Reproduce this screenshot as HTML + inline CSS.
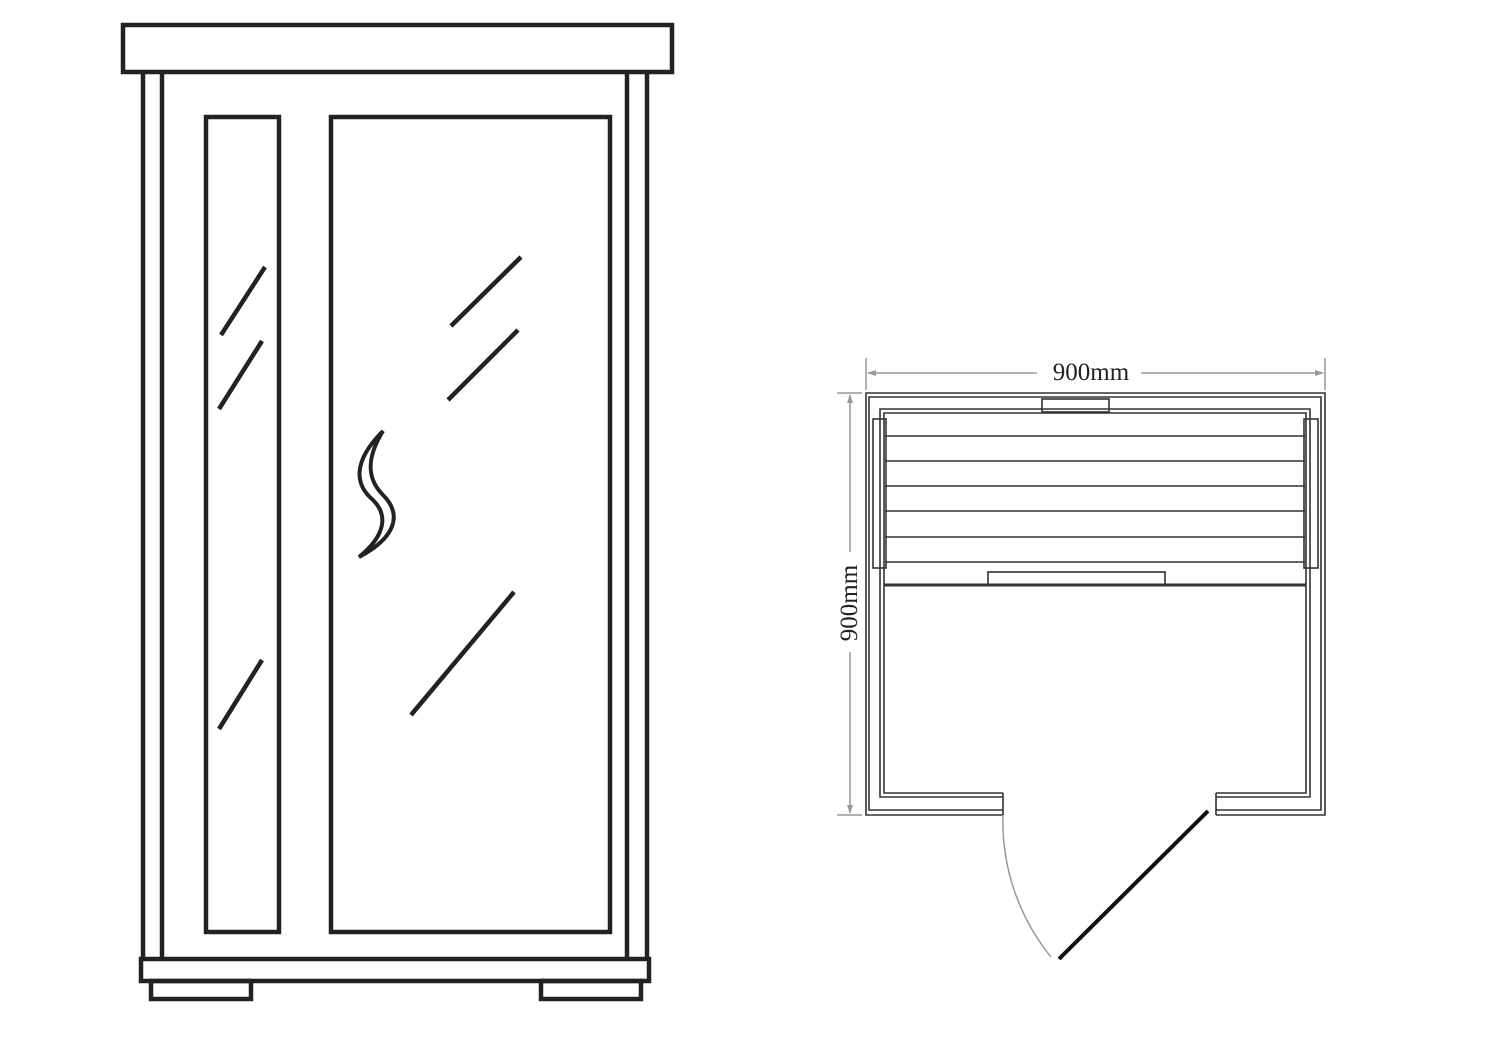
<!DOCTYPE html>
<html><head><meta charset="utf-8"><style>
html,body{margin:0;padding:0;background:#fff;}
svg{display:block;}
</style></head><body>
<svg width="1500" height="1039" viewBox="0 0 1500 1039" xmlns="http://www.w3.org/2000/svg">
<g fill="none" stroke="#222" stroke-width="4.5">
  <rect x="123" y="25" width="549" height="47"/>
  <line x1="143" y1="72" x2="143" y2="960"/>
  <line x1="162" y1="72" x2="162" y2="960"/>
  <line x1="627" y1="72" x2="627" y2="960"/>
  <line x1="647" y1="72" x2="647" y2="960"/>
  <rect x="141" y="959" width="508" height="22"/>
  <rect x="151" y="981" width="100" height="18"/>
  <rect x="541" y="981" width="100" height="18"/>
  <rect x="206" y="117" width="73" height="815"/>
  <rect x="331" y="117" width="279" height="815"/>
  <line x1="221" y1="335" x2="265" y2="267"/>
  <line x1="219" y1="409" x2="262" y2="341"/>
  <line x1="219" y1="729" x2="262" y2="660"/>
  <line x1="451" y1="326" x2="521" y2="257"/>
  <line x1="448" y1="400" x2="518" y2="330"/>
  <line x1="411" y1="715" x2="514" y2="592"/>
  <path stroke-width="4" d="M383,431 C352,462 355,485 373,500 C388,515 386,535 359,557 C395,538 403,515 383,495 C368,480 365,460 383,431 Z"/>
</g>
<g fill="none" stroke="#333" stroke-width="1.6">
  <path d="M1003,815 L866,815 L866,393 L1325,393 L1325,815 L1216,815"/>
  <path d="M1003,810 L869,810 L869,397 L1321,397 L1321,810 L1216,810"/>
  <path d="M1003,797 L880,797 L880,409 L1310,409 L1310,797 L1216,797"/>
  <path d="M1003,793 L884,793 L884,413 L1306,413 L1306,793 L1216,793"/>
  <line x1="1003" y1="793" x2="1003" y2="815"/>
  <line x1="1216" y1="793" x2="1216" y2="815"/>
  <rect x="1042" y="399" width="67" height="13"/>
  <rect x="873" y="419" width="13" height="149"/>
  <rect x="1304" y="419" width="14" height="149"/>
  <line x1="885" y1="436" x2="1305" y2="436"/>
  <line x1="885" y1="461" x2="1305" y2="461"/>
  <line x1="885" y1="486" x2="1305" y2="486"/>
  <line x1="885" y1="511" x2="1305" y2="511"/>
  <line x1="885" y1="537" x2="1305" y2="537"/>
  <line x1="885" y1="562" x2="1305" y2="562"/>
  <rect x="988" y="572" width="177" height="13"/>
  <line x1="884" y1="585" x2="1306" y2="585" stroke-width="3"/>
</g>
<line x1="1208" y1="811" x2="1059" y2="959" stroke="#111" stroke-width="4"/>
<path d="M1003,815 A215 215 0 0 0 1051,957" fill="none" stroke="#999" stroke-width="1.5"/>
<g stroke="#999" stroke-width="1.5" fill="#999">
  <line x1="866" y1="358" x2="866" y2="390"/>
  <line x1="1325" y1="358" x2="1325" y2="390"/>
  <line x1="868" y1="373" x2="1037" y2="373"/>
  <line x1="1141" y1="373" x2="1323" y2="373"/>
  <path d="M867,373 l9,-3 l0,6 z" stroke="none"/>
  <path d="M1324,373 l-9,-3 l0,6 z" stroke="none"/>
  <line x1="837" y1="393" x2="862" y2="393"/>
  <line x1="837" y1="815" x2="862" y2="815"/>
  <line x1="850" y1="395" x2="850" y2="552"/>
  <line x1="850" y1="652" x2="850" y2="813"/>
  <path d="M850,394 l-3,9 l6,0 z" stroke="none"/>
  <path d="M850,814 l-3,-9 l6,0 z" stroke="none"/>
</g>
<text x="1091" y="380" font-family="Liberation Serif, serif" font-size="25" fill="#222" text-anchor="middle">900mm</text>
<text x="0" y="0" transform="translate(857,603) rotate(-90)" font-family="Liberation Serif, serif" font-size="25" fill="#222" text-anchor="middle">900mm</text>
</svg>
</body></html>
